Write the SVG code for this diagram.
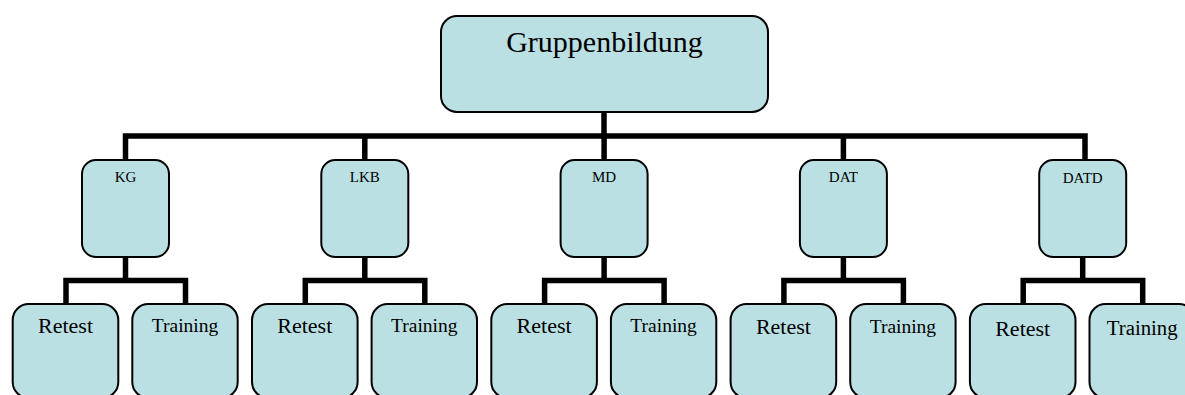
<svg xmlns="http://www.w3.org/2000/svg" width="1185" height="395" viewBox="0 0 1185 395">
<style>
.box{fill:#BBE0E3;stroke:#000;stroke-width:2}
.conn{fill:none;stroke:#000;stroke-width:5.5;stroke-linejoin:miter;stroke-linecap:butt}
text{font-family:"Liberation Serif","Times New Roman",serif;fill:#000;text-anchor:middle}
.t0{font-size:30px}
.t1{font-size:15px}
.t2r{font-size:22px}
.t2t{font-size:19.5px}
</style>
<rect width="1185" height="395" fill="#fff"/>
<g id="connectors">
<path class="conn" d="M604,112 V136"/>
<path class="conn" d="M125.5,160 V136 H1085 V160"/>
<path class="conn" d="M364.8,136 V160 M604.1,136 V160 M843.4,136 V160"/>
<g id="c-kg"><path class="conn" d="M125.5,257 V280.5"/><path class="conn" d="M66,304 V280.5 H185.5 V304"/></g>
<g id="c-lkb" transform="translate(239.3,0)"><path class="conn" d="M125.5,257 V280.5"/><path class="conn" d="M66,304 V280.5 H185.5 V304"/></g>
<g id="c-md" transform="translate(478.6,0)"><path class="conn" d="M125.5,257 V280.5"/><path class="conn" d="M66,304 V280.5 H185.5 V304"/></g>
<g id="c-dat" transform="translate(717.9,0)"><path class="conn" d="M125.5,257 V280.5"/><path class="conn" d="M66,304 V280.5 H185.5 V304"/></g>
<g id="c-datd" transform="translate(957.2,0)"><path class="conn" d="M125.5,257 V280.5"/><path class="conn" d="M66,304 V280.5 H185.5 V304"/></g>
</g>
<g id="gruppenbildung">
<rect class="box" x="441" y="16" width="327" height="96" rx="16"/>
<text class="t0" x="604.5" y="52">Gruppenbildung</text>
</g>
<g id="kg"><rect class="box" x="82" y="160" width="87" height="97" rx="14"/><text class="t1" x="125.5" y="182">KG</text></g>
<g id="lkb"><rect class="box" x="321.3" y="160" width="87" height="97" rx="14"/><text class="t1" x="364.8" y="182">LKB</text></g>
<g id="md"><rect class="box" x="560.6" y="160" width="87" height="97" rx="14"/><text class="t1" x="604.1" y="182">MD</text></g>
<g id="dat"><rect class="box" x="799.9" y="160" width="87" height="97" rx="14"/><text class="t1" x="843.4" y="182">DAT</text></g>
<g id="datd"><rect class="box" x="1039.2" y="160" width="87" height="97" rx="14"/><text class="t1" x="1082.7" y="183">DATD</text></g>
<g id="kg-retest"><rect class="box" x="12.7" y="304" width="105.6" height="94" rx="16"/><text class="t2r" x="65.5" y="333">Retest</text></g>
<g id="kg-training"><rect class="box" x="132.3" y="304" width="105.4" height="94" rx="16"/><text class="t2t" x="185" y="331.5">Training</text></g>
<g id="lkb-retest"><rect class="box" x="252" y="304" width="105.6" height="94" rx="16"/><text class="t2r" x="304.8" y="333">Retest</text></g>
<g id="lkb-training"><rect class="box" x="371.6" y="304" width="105.4" height="94" rx="16"/><text class="t2t" x="424.3" y="331.5">Training</text></g>
<g id="md-retest"><rect class="box" x="491.3" y="304" width="105.6" height="94" rx="16"/><text class="t2r" x="544.1" y="333.3">Retest</text></g>
<g id="md-training"><rect class="box" x="610.9" y="304" width="105.4" height="94" rx="16"/><text class="t2t" x="663.6" y="332.3">Training</text></g>
<g id="dat-retest"><rect class="box" x="730.6" y="304" width="105.6" height="94" rx="16"/><text class="t2r" x="783.4" y="334.3">Retest</text></g>
<g id="dat-training"><rect class="box" x="850.2" y="304" width="105.4" height="94" rx="16"/><text class="t2t" x="902.9" y="333.3">Training</text></g>
<g id="datd-retest"><rect class="box" x="969.9" y="304" width="105.6" height="94" rx="16"/><text class="t2r" x="1022.7" y="335.7">Retest</text></g>
<g id="datd-training"><rect class="box" x="1089.5" y="304" width="105.4" height="94" rx="16"/><text class="t2t" x="1142.2" y="334.5" style="font-size:20.8px">Training</text></g>
</svg>
